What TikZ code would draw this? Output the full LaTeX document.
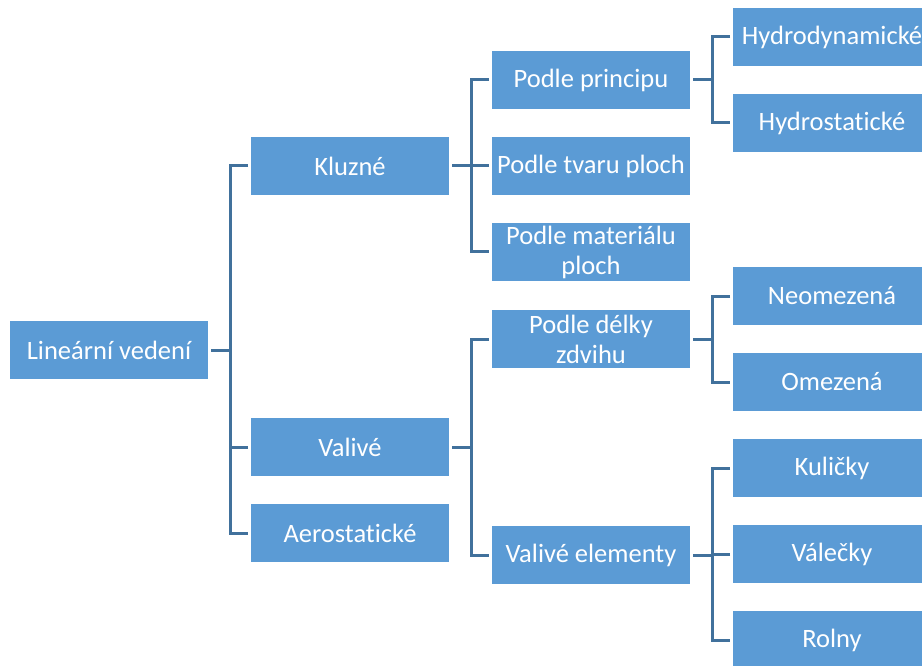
\documentclass[tikz,border=0pt]{standalone}
\usepackage{fontspec}
\setmainfont[Ligatures=NoCommon]{Carlito}
\definecolor{boxblue}{HTML}{5B9BD5}
\definecolor{linkblue}{HTML}{41719C}
\tikzset{
  box/.style={fill=boxblue, text=white, minimum width=198pt, minimum height=58pt,
    inner sep=1pt, outer sep=3pt, align=center, font=\fontsize{26.5}{30}\selectfont},
  link/.style={draw=linkblue, line width=3pt}
}

\begin{document}
\begin{tikzpicture}[x=1pt,y=-1pt]
\clip (0,0) rectangle (922,666);
\fill[white] (0,0) rectangle (922,666);
% levels
\node[box] (root) at (109,350) {Lineární vedení};
\node[box] (kluzne) at (350,166) {Kluzné};
\node[box] (valive) at (350,447) {Valivé};
\node[box] (aero) at (350,533) {Aerostatické};
\node[box] (princip) at (591,80) {Podle principu};
\node[box] (tvar) at (591,166) {Podle tvaru ploch};
\node[box] (material) at (591,252) {Podle materiálu\\ploch};
\node[box] (delka) at (591,339) {Podle délky\\zdvihu};
\node[box] (elementy) at (591,555) {Valivé elementy};
\node[box] (hydrodyn) at (832,37) {Hydrodynamické};
\node[box] (hydrostat) at (832,123) {Hydrostatické};
\node[box] (neomez) at (832,296) {Neomezená};
\node[box] (omez) at (832,382) {Omezená};
\node[box] (kulicky) at (832,468) {Kuličky};
\node[box] (valecky) at (832,554) {Válečky};
\node[box] (rolny) at (832,640) {Rolny};
% connectors
\draw[link] (root.east) -- ++(19,0);
\draw[link] (kluzne.west) -- ++(-18,0) |- (aero.west);
\draw[link] (valive.west) -- ++(-18,0);
\draw[link] (kluzne.east) -- ++(19,0);
\draw[link] (princip.west) -- ++(-18,0) |- (material.west);
\draw[link] (tvar.west) -- ++(-18,0);
\draw[link] (valive.east) -- ++(19,0);
\draw[link] (delka.west) -- ++(-18,0) |- (elementy.west);
\draw[link] (princip.east) -- ++(19,0);
\draw[link] (hydrodyn.west) -- ++(-18,0) |- (hydrostat.west);
\draw[link] (delka.east) -- ++(19,0);
\draw[link] (neomez.west) -- ++(-18,0) |- (omez.west);
\draw[link] (elementy.east) -- ++(19,0);
\draw[link] (kulicky.west) -- ++(-18,0) |- (rolny.west);
\draw[link] (valecky.west) -- ++(-18,0);
\end{tikzpicture}
\end{document}
